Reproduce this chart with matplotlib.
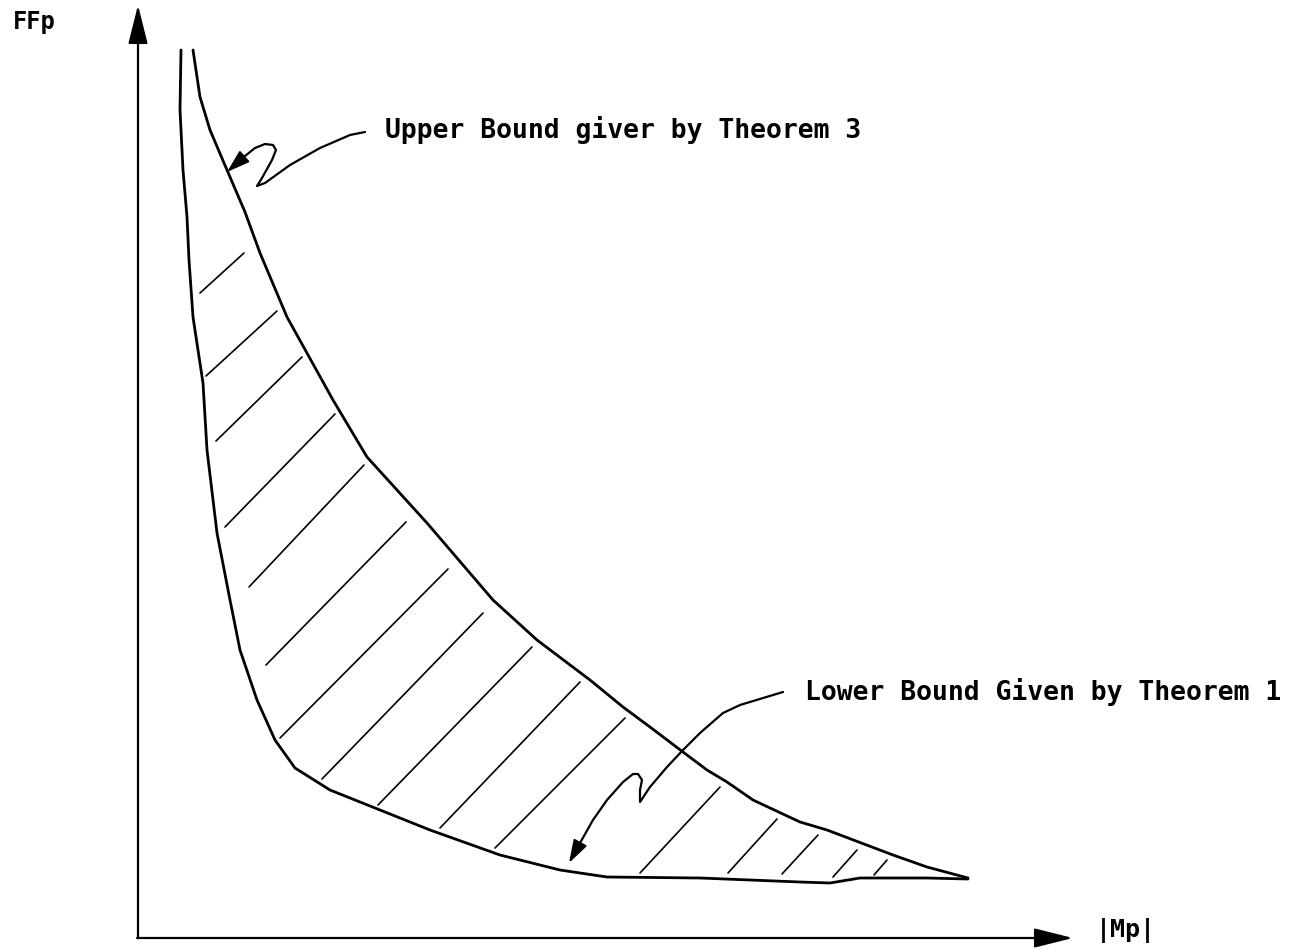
import matplotlib.pyplot as plt

# -----------------------------
# 1. Data (sketch units: origin at the axis corner)
# -----------------------------

upper_x = [55, 62, 72, 89, 107, 122, 149, 195, 229, 289, 355, 399, 452, 485,
           512, 545, 569, 589, 615, 662, 689, 755, 789, 830]
upper_y = [888, 841, 808, 768, 726, 685, 621, 538, 481, 415, 338, 298, 258, 231,
           211, 186, 168, 156, 138, 116, 108, 83, 71, 60]

lower_x = [43, 42, 45, 49, 51, 55, 65, 69, 79, 92, 102, 119, 137, 157, 192, 242,
           292, 362, 422, 469, 562, 662, 692, 722, 789, 830]
lower_y = [888, 828, 768, 721, 678, 621, 555, 488, 405, 338, 288, 238, 198, 170,
           148, 128, 108, 83, 68, 61, 60, 56, 55, 60, 60, 59]

# hatch strokes: start (x0, y0) -> end (x1, y1)
hatch_x0 = [62, 68, 78, 87, 111, 128, 142, 184, 240, 302, 357, 502, 590, 644, 695, 736]
hatch_y0 = [645, 562, 497, 411, 351, 273, 200, 159, 133, 110, 90, 65, 65, 64, 61, 63]
hatch_x1 = [106, 139, 164, 197, 226, 268, 310, 345, 394, 442, 487, 582, 639, 680, 719, 749]
hatch_y1 = [685, 627, 581, 524, 473, 416, 369, 325, 291, 256, 220, 151, 119, 103, 88, 78]

# squiggly leader lines for the two labels
upper_lead_x = [227, 212, 182, 152, 127, 119, 124, 134, 138, 135, 127, 117, 107, 89]
upper_lead_y = [806, 803, 790, 773, 755, 752, 760, 778, 788, 793, 794, 790, 782, 766]

lower_lead_x = [645, 602, 585, 562, 545, 529, 512, 502, 502, 504, 500, 495, 485,
                469, 455, 442, 431]
lower_lead_y = [246, 233, 225, 205, 188, 171, 151, 136, 148, 158, 164, 164, 156,
                138, 118, 95, 75]

upper_label = "Upper Bound giver by Theorem 3"
lower_label = "Lower Bound Given by Theorem 1"
x_label = "|Mp|"
y_label = "FFp"

# -----------------------------
# 2. Figure
# -----------------------------

fig = plt.figure(figsize=(13.08, 9.51), dpi=100)
ax = fig.add_axes([0, 0, 1, 1])
ax.set_xlim(-138, 1308 - 138)
ax.set_ylim(-13, 938)
ax.axis("off")

mono = "DejaVu Sans Mono"
line_style = dict(color="black", solid_joinstyle="round", solid_capstyle="round")

# axes drawn as arrows
axis_arrow = dict(arrowstyle="-|>,head_length=2.4,head_width=0.6",
                  mutation_scale=10, color="black", lw=1.6,
                  shrinkA=0, shrinkB=0)
ax.annotate("", xy=(0, 933), xytext=(0, 0), arrowprops=axis_arrow)
ax.annotate("", xy=(935, 0), xytext=(-1, 0), arrowprops=axis_arrow)

ax.text(-125, 909, y_label, fontsize=17, family=mono, weight="bold", va="baseline")
ax.text(958, 1, x_label, fontsize=18, family=mono, weight="bold", va="baseline")

# bounds
ax.plot(upper_x, upper_y, lw=2.0, **line_style)
ax.plot(lower_x, lower_y, lw=2.0, **line_style)

for x0, y0, x1, y1 in zip(hatch_x0, hatch_y0, hatch_x1, hatch_y1):
    ax.plot([x0, x1], [y0, y1], lw=1.2, **line_style)

# labels with squiggly arrows
lead_arrow = dict(arrowstyle="-|>,head_length=1.4,head_width=0.45",
                  mutation_scale=10, color="black", lw=1.5,
                  shrinkA=0, shrinkB=0)

for lx, ly in [(upper_lead_x, upper_lead_y), (lower_lead_x, lower_lead_y)]:
    ax.plot(lx[:-1], ly[:-1], lw=1.6, **line_style)
    ax.annotate("", xy=(lx[-1], ly[-1]), xytext=(lx[-2], ly[-2]),
                arrowprops=lead_arrow)

ax.text(247, 800, upper_label, fontsize=19, family=mono, weight="bold", va="baseline")
ax.text(667, 238, lower_label, fontsize=19, family=mono, weight="bold", va="baseline")

plt.savefig("out.png", dpi=100)
plt.close()
